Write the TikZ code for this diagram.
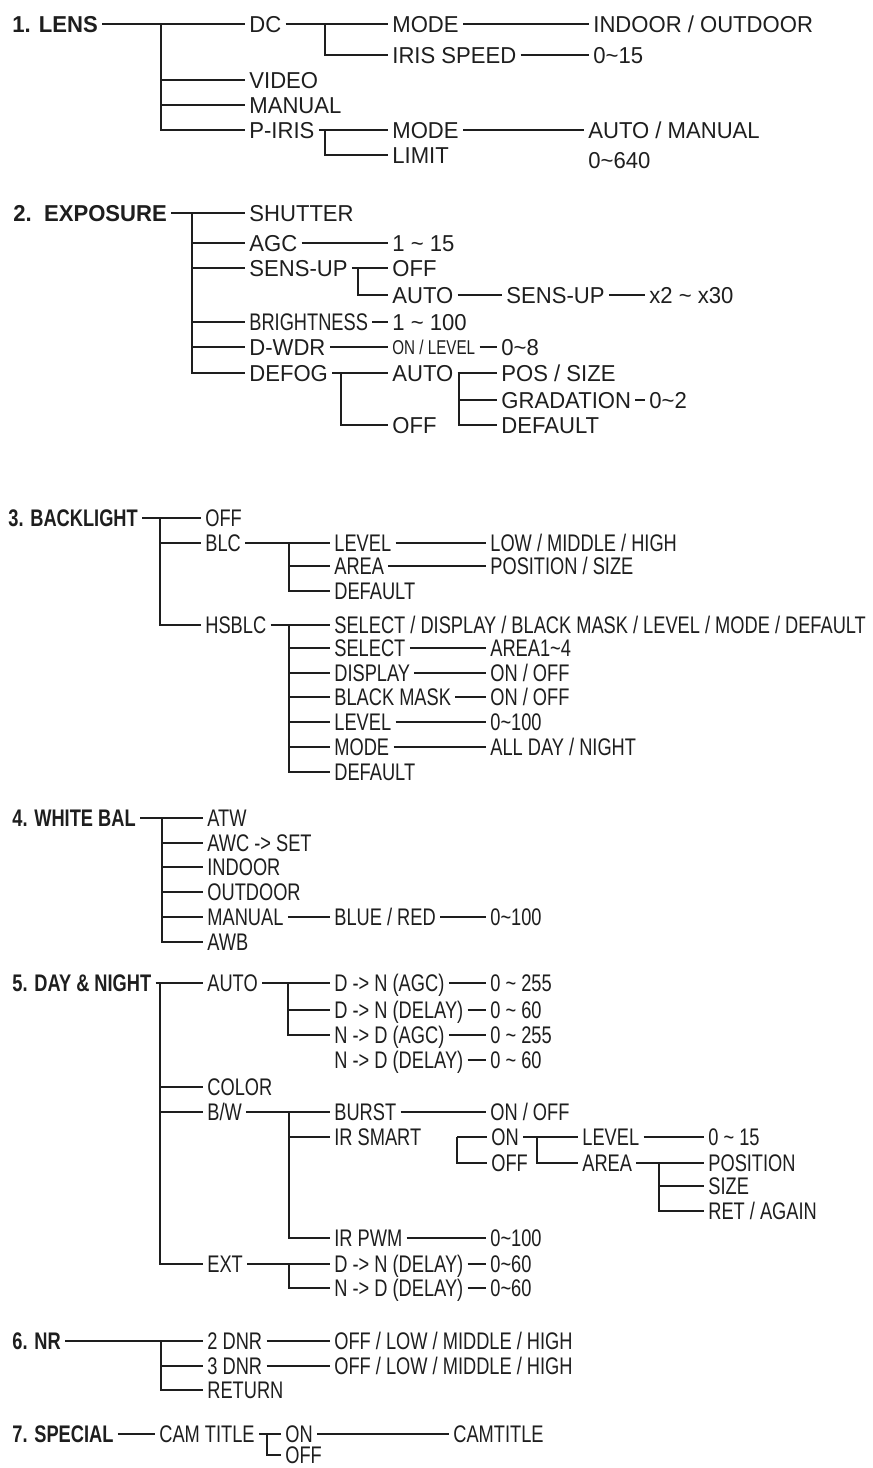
\documentclass[tikz,border=0pt]{standalone}
\usepackage{fontspec}
\setmainfont{Liberation Sans}[FakeStretch=0.96]
\newfontfamily\narrowsf{Liberation Sans}[FakeStretch=0.76]
\newcommand{\tld}{\textasciitilde}

\begin{document}
\begin{tikzpicture}[x=0.5pt,y=-0.5pt]
    \definecolor{menu-ink}{HTML}{1E1E1E}

    \tikzset{
      menucell/.style={
        anchor=west,
        xshift=-2pt,
        inner xsep=2pt,
        inner ysep=1pt,
        text height=8.3pt,
        text depth=0pt,
        text=menu-ink,
        font=\fontsize{11.5}{13}\selectfont
      },
      narrowcell/.style={
        menucell,
        font=\narrowsf\fontsize{12}{14}\selectfont
      },
      smallcell/.style={
        menucell,
        text height=7pt,
        font=\narrowsf\fontsize{10}{12}\selectfont
      },
      headcell/.style={
        menucell,
        font=\bfseries\fontsize{11.5}{13}\selectfont
      },
      narrowhead/.style={
        menucell,
        font=\narrowsf\bfseries\fontsize{12}{14}\selectfont
      },
      wire/.style={
        draw=menu-ink,
        line width=0.7pt
      }
    }

    \useasboundingbox[fill=white] (0,0) rectangle (873,1468);

    % 1. LENS
    \node[headcell] (lens) at (12,24) {1. LENS};
    \node[menucell] (dc) at (249,24) {DC};
    \node[menucell] (dcmode) at (392,24) {MODE};
    \node[menucell] (dcmodev) at (593,24) {INDOOR / OUTDOOR};
    \node[menucell] (iris) at (392,55) {IRIS SPEED};
    \node[menucell] (irisv) at (593,55) {0\tld15};
    \node[menucell] (video) at (249,80) {VIDEO};
    \node[menucell] (manual) at (249,105) {MANUAL};
    \node[menucell] (piris) at (249,130) {P-IRIS};
    \node[menucell] (pmode) at (392,130) {MODE};
    \node[menucell] (pmodev) at (588,130) {AUTO / MANUAL};
    \node[menucell] (limit) at (392,155) {LIMIT};
    \node[menucell] (limitv) at (588,160) {0\tld640};

    \coordinate (lensbus) at (161,24);
    \coordinate (dcbus) at (325,24);
    \coordinate (pirisbus) at (325,130);
    \draw[wire] (lens) -- (dc);
    \foreach \n in {video,manual,piris} \draw[wire] (lensbus) |- (\n);
    \draw[wire] (dc) -- (dcmode);
    \draw[wire] (dcbus) |- (iris);
    \draw[wire] (dcmode) -- (dcmodev);
    \draw[wire] (iris) -- (irisv);
    \draw[wire] (piris) -- (pmode);
    \draw[wire] (pirisbus) |- (limit);
    \draw[wire] (pmode) -- (pmodev);

    % 2. EXPOSURE
    \node[headcell] (expo) at (13,213) {2.\ \ EXPOSURE};
    \node[menucell] (shutter) at (249,213) {SHUTTER};
    \node[menucell] (agc) at (249,243) {AGC};
    \node[menucell] (agcv) at (392,243) {1 \tld{} 15};
    \node[menucell] (sensup) at (249,268) {SENS-UP};
    \node[menucell] (suoff) at (392,268) {OFF};
    \node[menucell] (suauto) at (392,295) {AUTO};
    \node[menucell] (suauto2) at (506,295) {SENS-UP};
    \node[menucell] (suautov) at (649,295) {x2 \tld{} x30};
    \node[narrowcell] (bright) at (249,322) {BRIGHTNESS};
    \node[menucell] (brightv) at (392,322) {1 \tld{} 100};
    \node[menucell] (dwdr) at (249,347) {D-WDR};
    \node[smallcell] (dwdron) at (392,347) {ON / LEVEL};
    \node[menucell] (dwdrv) at (501,347) {0\tld8};
    \node[menucell] (defog) at (249,373) {DEFOG};
    \node[menucell] (dfauto) at (392,373) {AUTO};
    \node[menucell] (dfoff) at (392,425) {OFF};
    \node[menucell] (dfpos) at (501,373) {POS / SIZE};
    \node[menucell] (dfgrad) at (501,400) {GRADATION};
    \node[menucell] (dfgradv) at (649,400) {0\tld2};
    \node[menucell] (dfdef) at (501,425) {DEFAULT};

    \coordinate (expobus) at (192,213);
    \coordinate (sensupbus) at (358,268);
    \coordinate (defogbus) at (341,373);
    \coordinate (dfautobus) at (459,373);
    \draw[wire] (expo) -- (shutter);
    \foreach \n in {agc,sensup,bright,dwdr,defog} \draw[wire] (expobus) |- (\n);
    \draw[wire] (agc) -- (agcv);
    \draw[wire] (sensup) -- (suoff);
    \draw[wire] (sensupbus) |- (suauto);
    \draw[wire] (suauto) -- (suauto2);
    \draw[wire] (suauto2) -- (suautov);
    \draw[wire] (bright) -- (brightv);
    \draw[wire] (dwdr) -- (dwdron);
    \draw[wire] (dwdron) -- (dwdrv);
    \draw[wire] (defog) -- (dfauto);
    \draw[wire] (defogbus) |- (dfoff);
    \draw[wire] (dfauto) -- (dfpos);
    \foreach \n in {dfgrad,dfdef} \draw[wire] (dfautobus) |- (\n);
    \draw[wire] (dfgrad) -- (dfgradv);

    % 3. BACKLIGHT
    \node[narrowhead] (back) at (8,518) {3. BACKLIGHT};
    \node[narrowcell] (bloff) at (205,518) {OFF};
    \node[narrowcell] (blc) at (205,543) {BLC};
    \node[narrowcell] (blclevel) at (334,543) {LEVEL};
    \node[narrowcell] (blclevelv) at (490,543) {LOW / MIDDLE / HIGH};
    \node[narrowcell] (blcarea) at (334,566) {AREA};
    \node[narrowcell] (blcareav) at (490,566) {POSITION / SIZE};
    \node[narrowcell] (blcdef) at (334,591) {DEFAULT};
    \node[narrowcell] (hsblc) at (205,625) {HSBLC};
    \node[narrowcell] (hsall) at (334,625) {SELECT / DISPLAY / BLACK MASK / LEVEL / MODE / DEFAULT};
    \node[narrowcell] (hssel) at (334,648) {SELECT};
    \node[narrowcell] (hsselv) at (490,648) {AREA1\tld4};
    \node[narrowcell] (hsdisp) at (334,673) {DISPLAY};
    \node[narrowcell] (hsdispv) at (490,673) {ON / OFF};
    \node[narrowcell] (hsmask) at (334,697) {BLACK MASK};
    \node[narrowcell] (hsmaskv) at (490,697) {ON / OFF};
    \node[narrowcell] (hslevel) at (334,722) {LEVEL};
    \node[narrowcell] (hslevelv) at (490,722) {0\tld100};
    \node[narrowcell] (hsmode) at (334,747) {MODE};
    \node[narrowcell] (hsmodev) at (490,747) {ALL DAY / NIGHT};
    \node[narrowcell] (hsdef) at (334,772) {DEFAULT};

    \coordinate (backbus) at (160,518);
    \coordinate (blcbus) at (289,543);
    \coordinate (hsbus) at (289,625);
    \draw[wire] (back) -- (bloff);
    \foreach \n in {blc,hsblc} \draw[wire] (backbus) |- (\n);
    \draw[wire] (blc) -- (blclevel);
    \foreach \n in {blcarea,blcdef} \draw[wire] (blcbus) |- (\n);
    \draw[wire] (blclevel) -- (blclevelv);
    \draw[wire] (blcarea) -- (blcareav);
    \draw[wire] (hsblc) -- (hsall);
    \foreach \n in {hssel,hsdisp,hsmask,hslevel,hsmode,hsdef} \draw[wire] (hsbus) |- (\n);
    \foreach \n in {hssel,hsdisp,hsmask,hslevel,hsmode} \draw[wire] (\n) -- (\n v);

    % 4. WHITE BAL
    \node[narrowhead] (wb) at (12,818) {4. WHITE BAL};
    \node[narrowcell] (atw) at (207,818) {ATW};
    \node[narrowcell] (awc) at (207,843) {AWC -> SET};
    \node[narrowcell] (wbin) at (207,867) {INDOOR};
    \node[narrowcell] (wbout) at (207,892) {OUTDOOR};
    \node[narrowcell] (wbman) at (207,917) {MANUAL};
    \node[narrowcell] (wbblue) at (334,917) {BLUE / RED};
    \node[narrowcell] (wbbluev) at (490,917) {0\tld100};
    \node[narrowcell] (awb) at (207,942) {AWB};

    \coordinate (wbbus) at (162,818);
    \draw[wire] (wb) -- (atw);
    \foreach \n in {awc,wbin,wbout,wbman,awb} \draw[wire] (wbbus) |- (\n);
    \draw[wire] (wbman) -- (wbblue);
    \draw[wire] (wbblue) -- (wbbluev);

    % 5. DAY & NIGHT
    \node[narrowhead] (dn) at (12,983) {5. DAY \& NIGHT};
    \node[narrowcell] (dnauto) at (207,983) {AUTO};
    \node[narrowcell] (dnagc) at (334,983) {D -> N (AGC)};
    \node[narrowcell] (dnagcv) at (490,983) {0 \tld{} 255};
    \node[narrowcell] (dndel) at (334,1010) {D -> N (DELAY)};
    \node[narrowcell] (dndelv) at (490,1010) {0 \tld{} 60};
    \node[narrowcell] (ndagc) at (334,1035) {N -> D (AGC)};
    \node[narrowcell] (ndagcv) at (490,1035) {0 \tld{} 255};
    \node[narrowcell] (nddel) at (334,1060) {N -> D (DELAY)};
    \node[narrowcell] (nddelv) at (490,1060) {0 \tld{} 60};
    \node[narrowcell] (color) at (207,1087) {COLOR};
    \node[narrowcell] (bw) at (207,1112) {B/W};
    \node[narrowcell] (burst) at (334,1112) {BURST};
    \node[narrowcell] (burstv) at (490,1112) {ON / OFF};
    \node[narrowcell] (irsmart) at (334,1137) {IR SMART};
    \node[narrowcell] (irson) at (491,1137) {ON};
    \node[narrowcell] (irsoff) at (491,1163) {OFF};
    \node[narrowcell] (irlevel) at (582,1137) {LEVEL};
    \node[narrowcell] (irlevelv) at (708,1137) {0 \tld{} 15};
    \node[narrowcell] (irarea) at (582,1163) {AREA};
    \node[narrowcell] (irpos) at (708,1163) {POSITION};
    \node[narrowcell] (irsize) at (708,1186) {SIZE};
    \node[narrowcell] (irret) at (708,1211) {RET / AGAIN};
    \node[narrowcell] (irpwm) at (334,1238) {IR PWM};
    \node[narrowcell] (irpwmv) at (490,1238) {0\tld100};
    \node[narrowcell] (ext) at (207,1264) {EXT};
    \node[narrowcell] (extdn) at (334,1264) {D -> N (DELAY)};
    \node[narrowcell] (extdnv) at (490,1264) {0\tld60};
    \node[narrowcell] (extnd) at (334,1288) {N -> D (DELAY)};
    \node[narrowcell] (extndv) at (490,1288) {0\tld60};

    \coordinate (dnbus) at (160,983);
    \coordinate (dnautobus) at (288,983);
    \coordinate (bwbus) at (289,1112);
    \coordinate (irsbus) at (457,1137);
    \coordinate (irsonbus) at (537,1137);
    \coordinate (irareabus) at (659,1163);
    \coordinate (extbus) at (289,1264);
    \draw[wire] (dn) -- (dnauto);
    \foreach \n in {color,bw,ext} \draw[wire] (dnbus) |- (\n);
    \draw[wire] (dnauto) -- (dnagc);
    \foreach \n in {dndel,ndagc} \draw[wire] (dnautobus) |- (\n);
    \foreach \n in {dnagc,dndel,ndagc,nddel} \draw[wire] (\n) -- (\n v);
    \draw[wire] (bw) -- (burst);
    \foreach \n in {irsmart,irpwm} \draw[wire] (bwbus) |- (\n);
    \draw[wire] (burst) -- (burstv);
    \draw[wire] (irsbus) -- (irson);
    \draw[wire] (irsbus) |- (irsoff);
    \draw[wire] (irson) -- (irlevel);
    \draw[wire] (irsonbus) |- (irarea);
    \draw[wire] (irlevel) -- (irlevelv);
    \draw[wire] (irarea) -- (irpos);
    \foreach \n in {irsize,irret} \draw[wire] (irareabus) |- (\n);
    \draw[wire] (irpwm) -- (irpwmv);
    \draw[wire] (ext) -- (extdn);
    \draw[wire] (extbus) |- (extnd);
    \draw[wire] (extdn) -- (extdnv);
    \draw[wire] (extnd) -- (extndv);

    % 6. NR
    \node[narrowhead] (nr) at (12,1341) {6. NR};
    \node[narrowcell] (dnr2) at (207,1341) {2 DNR};
    \node[narrowcell] (dnr2v) at (334,1341) {OFF / LOW / MIDDLE / HIGH};
    \node[narrowcell] (dnr3) at (207,1366) {3 DNR};
    \node[narrowcell] (dnr3v) at (334,1366) {OFF / LOW / MIDDLE / HIGH};
    \node[narrowcell] (nrret) at (207,1390) {RETURN};

    \coordinate (nrbus) at (161,1341);
    \draw[wire] (nr) -- (dnr2);
    \foreach \n in {dnr3,nrret} \draw[wire] (nrbus) |- (\n);
    \draw[wire] (dnr2) -- (dnr2v);
    \draw[wire] (dnr3) -- (dnr3v);

    % 7. SPECIAL
    \node[narrowhead] (special) at (12,1434) {7. SPECIAL};
    \node[narrowcell] (camtitle) at (159,1434) {CAM TITLE};
    \node[narrowcell] (cton) at (285,1434) {ON};
    \node[narrowcell] (ctonv) at (453,1434) {CAMTITLE};
    \node[narrowcell] (ctoff) at (285,1455) {OFF};

    \coordinate (ctbus) at (267,1434);
    \draw[wire] (special) -- (camtitle);
    \draw[wire] (camtitle) -- (cton);
    \draw[wire] (ctbus) |- (ctoff);
    \draw[wire] (cton) -- (ctonv);
\end{tikzpicture}
\end{document}
